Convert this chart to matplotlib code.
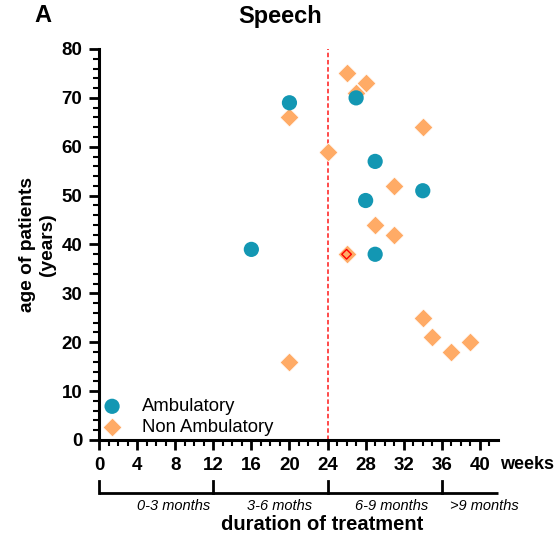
import matplotlib
matplotlib.use("Agg")
import matplotlib.pyplot as plt
import matplotlib.transforms as mtransforms

plt.rcParams['font.family'] = ['Liberation Sans', 'DejaVu Sans']

amb_weeks = [20, 27, 29, 34, 28, 16, 29]
amb_age = [69, 70, 57, 51, 49, 39, 38]

non_weeks = [26, 28, 27, 20, 34, 24, 31, 29, 31, 26, 20, 34, 35, 37, 39]
non_age = [75, 73, 71, 66, 64, 59, 52, 44, 42, 38, 16, 25, 21, 18, 20]

highlight_week = [26]
highlight_age = [38]

x_ticks = [0, 4, 8, 12, 16, 20, 24, 28, 32, 36, 40]
y_ticks = [0, 10, 20, 30, 40, 50, 60, 70, 80]
period_bounds = [0, 12, 24, 36]
period_labels = ["0-3 months", "3-6 moths", "6-9 months", ">9 months"]
period_label_x = [7.8, 19.0, 30.7, 40.5]

teal = "#1397B3"
orange = "#FFAB66"

fig = plt.figure(figsize=(5.59, 5.41), dpi=100)
ax = fig.add_axes([99/559, 1-440/541, (498-99)/559, (440-49)/541])

ax.scatter(non_weeks, non_age, marker='D', s=92, color=orange, edgecolor='white',
           linewidth=0.5, zorder=3, label='Non Ambulatory')
ax.scatter(amb_weeks, amb_age, marker='o', s=120, color=teal, edgecolor='none',
           zorder=4, label='Ambulatory')
ax.scatter(highlight_week, highlight_age, marker='D', s=24, facecolor='none',
           edgecolor='red', linewidth=1.0, zorder=5)

ax.plot([24, 24], [0, 80], color='#FF3B3B', linestyle=(0, (2.5, 1.5)), linewidth=1.3, zorder=2)

ax.set_xlim(0, 41.9)
ax.set_ylim(0, 80)
for s in ['top', 'right']:
    ax.spines[s].set_visible(False)
for s in ['left', 'bottom']:
    ax.spines[s].set_linewidth(2.2)
ax.set_xticks(x_ticks)
ax.set_yticks(y_ticks)
ax.set_xticks(range(0, 42), minor=True)
ax.set_yticks(range(0, 81, 2), minor=True)
ax.tick_params(which='major', direction='out', length=7, width=2, labelsize=13.5, pad=5)
ax.tick_params(which='minor', direction='out', length=4, width=1.5)
for lab in ax.get_xticklabels() + ax.get_yticklabels():
    lab.set_fontweight('bold')

ax.set_ylabel("age of patients\n(years)", fontsize=13.8, fontweight='bold', labelpad=4)
fig.text(280/559, 1-17/541, "Speech", fontsize=17, fontweight='bold', ha='center', va='center')
fig.text(34/559, 1-16/541, "A", fontsize=17, fontweight='bold', va='center', ha='left')
ax.text(1.005, -0.063, "weeks", transform=ax.transAxes, fontsize=13, fontweight='bold',
        ha='left', va='center')

trans = mtransforms.blended_transform_factory(ax.transData, ax.transAxes)
y_line = -(493-440)/391
y_top = -(481-440)/391
ax.plot([0, 41.9], [y_line, y_line], color='black', linewidth=2, transform=trans, clip_on=False,
        solid_capstyle='butt')
for b in period_bounds:
    ax.plot([b, b], [y_line, y_top], color='black', linewidth=2, transform=trans, clip_on=False)
y_lab = -(506-440)/391
for lx, lt in zip(period_label_x, period_labels):
    ax.text(lx, y_lab, lt, transform=trans, fontsize=10.5, fontstyle='italic', ha='center', va='center')
fig.text(322/559, 1-525/541, "duration of treatment", fontsize=14.5,
         fontweight='bold', ha='center', va='center')

handles, labels = ax.get_legend_handles_labels()
leg = ax.legend(handles[::-1], labels[::-1], loc='center left',
                bbox_to_anchor=(0.005, (440-417)/391),
                frameon=False, fontsize=13.3, handlelength=1.2, handletextpad=1.02,
                labelspacing=0.2, borderpad=0, borderaxespad=0)

fig.savefig("out.png", dpi=100)
